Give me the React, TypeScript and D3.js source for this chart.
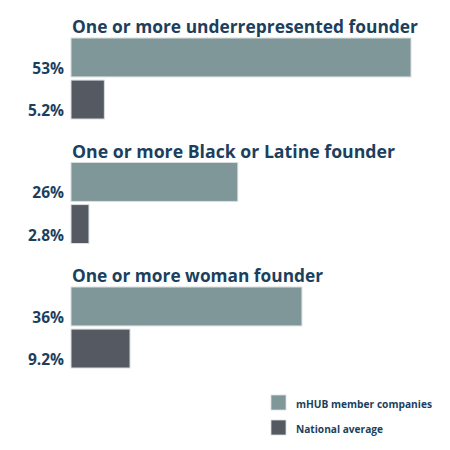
import React from "react";
import * as d3 from "d3";

const categories = [
  "One or more underrepresented founder",
  "One or more Black or Latine founder",
  "One or more woman founder",
];
const series = ["mHUB member companies", "National average"];
const mhubValues = [53, 26, 36];
const nationalValues = [5.2, 2.8, 9.2];
const valueLabels = [
  ["53%", "5.2%"],
  ["26%", "2.8%"],
  ["36%", "9.2%"],
];

const W = 450;
const H = 450;
const TEXT = "#1c3f5e";
const COLORS = ["#80979a", "#555a62"];
const FONT = "'Open Sans', Lato, sans-serif";

export default function App() {
  const x = d3.scaleLinear().domain([0, 53]).range([71, 411]);
  const groupY = d3
    .scaleBand<string>()
    .domain(categories)
    .range([38, 38 + 124.5 * 3])
    .paddingInner(0)
    .paddingOuter(0);
  const innerY = d3
    .scaleBand<string>()
    .domain(series)
    .range([0, 81])
    .paddingInner(0.075)
    .paddingOuter(0);
  const color = d3.scaleOrdinal<string, string>().domain(series).range(COLORS);
  const titleWidths = [346, 323, 251];

  return (
    <svg
      width={W}
      height={H}
      style={{ position: "absolute", left: 0, top: 0, background: "#fff" }}
      fontFamily={FONT}
    >
      {categories.map((cat, gi) => {
        const gy = groupY(cat)!;
        const vals = [mhubValues[gi], nationalValues[gi]];
        return (
          <g key={cat}>
            <text
              x={72}
              y={gy - 5}
              fill={TEXT}
              fontSize={17.5}
              fontWeight={700}
              textLength={titleWidths[gi]}
              lengthAdjust="spacingAndGlyphs"
            >
              {cat}
            </text>
            {series.map((s, si) => {
              const y = gy + innerY(s)!;
              const h = innerY.bandwidth();
              return (
                <g key={s}>
                  <rect
                    x={x(0)}
                    y={y}
                    width={x(vals[si]) - x(0)}
                    height={h}
                    fill={color(s)}
                    stroke="#d9dfe0"
                    strokeWidth={1}
                  />
                  <text
                    x={64}
                    y={y + h - 3}
                    textAnchor="end"
                    fill={TEXT}
                    fontSize={15.5}
                    fontWeight={700}
                  >
                    {valueLabels[gi][si]}
                  </text>
                </g>
              );
            })}
          </g>
        );
      })}
      {series.map((s, i) => (
        <g key={s} transform={`translate(271, ${395 + i * 25})`}>
          <rect width={15} height={15} fill={color(s)} stroke="#d9dfe0" strokeWidth={0.8} />
          <text
            x={25}
            y={12.5}
            fill={TEXT}
            fontSize={11}
            fontWeight={700}
            textLength={i === 0 ? 136 : 87}
            lengthAdjust="spacingAndGlyphs"
          >
            {s}
          </text>
        </g>
      ))}
    </svg>
  );
}
